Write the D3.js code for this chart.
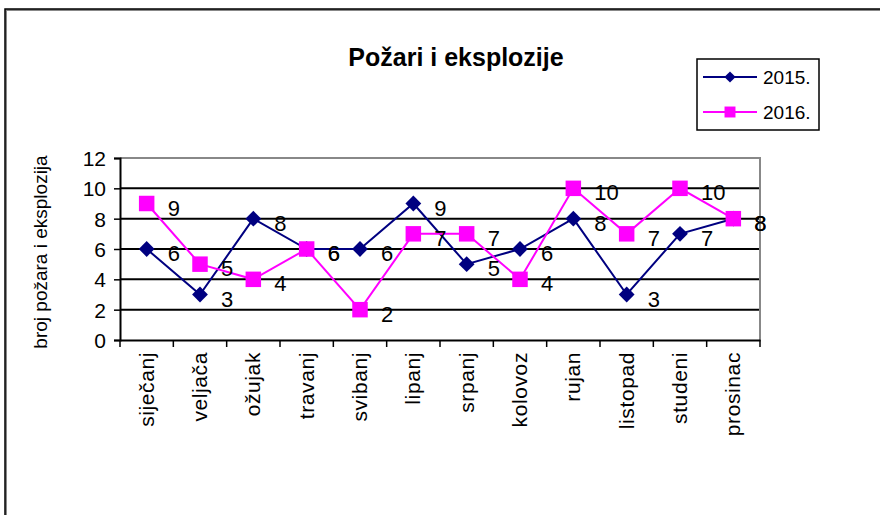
<!DOCTYPE html>
<html lang="hr">
<head>
<meta charset="utf-8">
<title>Požari i eksplozije</title>
<script src="https://d3js.org/d3.v7.min.js"></script>
<style>
  body { margin: 0; background: #fff; }
  text { font-family: "Liberation Sans", Arial, sans-serif; fill: #000; }
</style>
</head>
<body>
<div id="chart"></div>
<script>
"use strict"

var mjeseci = ["siječanj", "veljača", "ožujak", "travanj", "svibanj", "lipanj",
               "srpanj", "kolovoz", "rujan", "listopad", "studeni", "prosinac"];
var god2015 = [6, 3, 8, 6, 6, 9, 5, 6, 8, 3, 7, 8];
var god2016 = [9, 5, 4, 6, 2, 7, 7, 4, 10, 7, 10, 8];
var yTicks = [0, 2, 4, 6, 8, 10, 12];

var sirina = 880, visina = 515;
var margin = {top: 158, right: 120, bottom: 175, left: 120};
var w = sirina - margin.left - margin.right,
    h = visina - margin.top - margin.bottom;

var svg = d3.select("#chart").append("svg")
  .attr("width", sirina).attr("height", visina);

// okvir grafa (s sjenom)
svg.append("rect").attr("x", 6).attr("y", 10).attr("width", 880).attr("height", 520)
  .attr("fill", "none").attr("stroke", "#888").attr("stroke-width", 2);
svg.append("rect").attr("x", 5).attr("y", 9).attr("width", 880).attr("height", 520)
  .attr("fill", "none").attr("stroke", "#000").attr("stroke-width", 1.5);

svg.append("text")
  .attr("x", 456).attr("y", 66)
  .attr("text-anchor", "middle")
  .style("font-size", "25px").style("font-weight", "bold")
  .text("Požari i eksplozije");

var g = svg.append("g").attr("transform", "translate(" + margin.left + "," + margin.top + ")");

var x = d3.scaleBand().domain(mjeseci).range([0, w]);
var y = d3.scaleLinear().domain([0, 12]).range([h, 0]);

// mreža
g.selectAll(".grid").data(yTicks.filter(d => d > 0 && d < 12)).enter()
  .append("line")
  .attr("x1", 0).attr("x2", w)
  .attr("y1", d => y(d)).attr("y2", d => y(d))
  .attr("stroke", "#000").attr("stroke-width", 2);

// gornji i desni rub
g.append("path")
  .attr("d", "M0," + y(12) + "H" + w + "V" + h)
  .attr("fill", "none").attr("stroke", "#888").attr("stroke-width", 2);

// os y
var osY = g.append("g")
  .call(d3.axisLeft(y).tickValues(yTicks).tickSize(6).tickPadding(8));
osY.select(".domain").attr("stroke-width", 2);
osY.selectAll(".tick line").attr("stroke-width", 1.5);
osY.selectAll("text").style("font-size", "21px").attr("dy", "0.35em");

// os x
var osX = g.append("g").attr("transform", "translate(0," + h + ")")
  .call(d3.axisBottom(x).tickSize(0).tickFormat(""));
osX.select(".domain").attr("stroke-width", 2);
g.selectAll(".xt").data(d3.range(mjeseci.length + 1)).enter()
  .append("line")
  .attr("x1", d => d * x.step()).attr("x2", d => d * x.step())
  .attr("y1", h).attr("y2", h + 7)
  .attr("stroke", "#000").attr("stroke-width", 1.5);
g.selectAll(".xl").data(mjeseci).enter()
  .append("text")
  .attr("transform", d => "translate(" + (x(d) + x.bandwidth() / 2 + 7) + "," + (h + 12) + ") rotate(-90)")
  .attr("text-anchor", "end")
  .style("font-size", "21px")
  .style("letter-spacing", "0.6px")
  .text(d => d);

// naslov osi y
svg.append("text")
  .attr("transform", "translate(47,252) rotate(-90)")
  .attr("text-anchor", "middle")
  .style("font-size", "19px")
  .text("broj požara i eksplozija");

var cx = (d, i) => x(mjeseci[i]) + x.bandwidth() / 2;
var linija = d3.line().x((d, i) => cx(d, i)).y(d => y(d));

var serije = [
  {ime: "2015.", vrijednosti: god2015, boja: "#000080", znak: d3.symbolSquare, rot: 45, vel: 125},
  {ime: "2016.", vrijednosti: god2016, boja: "#FF00FF", znak: d3.symbolSquare, rot: 0, vel: 240}
];

serije.forEach(function(s) {
  g.append("path").datum(s.vrijednosti)
    .attr("d", linija)
    .attr("fill", "none").attr("stroke", s.boja).attr("stroke-width", 2);
});
serije.forEach(function(s) {
  g.selectAll(null).data(s.vrijednosti).enter()
    .append("path")
    .attr("d", d3.symbol().type(s.znak).size(s.vel))
    .attr("transform", (d, i) => "translate(" + cx(d, i) + "," + y(d) + ") rotate(" + s.rot + ")")
    .attr("fill", s.boja);
});
serije.forEach(function(s) {
  g.selectAll(null).data(s.vrijednosti).enter()
    .append("text")
    .attr("x", (d, i) => cx(d, i) + 21)
    .attr("y", d => y(d) + 12)
    .style("font-size", "22px")
    .text(d => d);
});

// legenda
var leg = svg.append("g").attr("transform", "translate(697,59)");
leg.append("rect").attr("width", 122).attr("height", 71)
  .attr("fill", "#fff").attr("stroke", "#000").attr("stroke-width", 1.5);
serije.forEach(function(s, i) {
  var ly = 18 + i * 35;
  leg.append("line").attr("x1", 6).attr("x2", 60).attr("y1", ly).attr("y2", ly)
    .attr("stroke", s.boja).attr("stroke-width", 2);
  leg.append("path")
    .attr("d", d3.symbol().type(s.znak).size(s.vel * 0.5))
    .attr("transform", "translate(33," + ly + ") rotate(" + s.rot + ")")
    .attr("fill", s.boja);
  leg.append("text").attr("x", 66).attr("y", ly + 7)
    .style("font-size", "19px").text(s.ime);
});
</script>
</body>
</html>
